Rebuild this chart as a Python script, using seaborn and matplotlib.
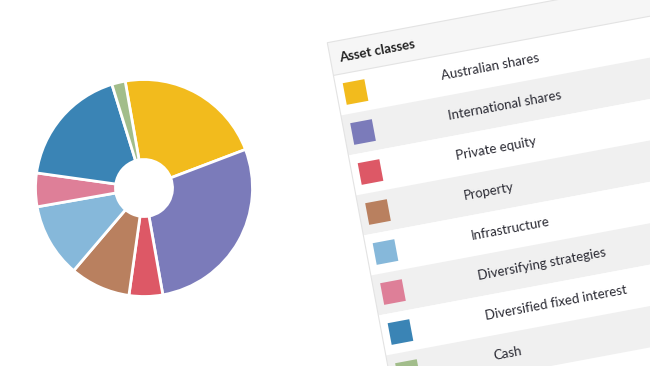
import matplotlib.pyplot as plt
import seaborn as sns
from matplotlib.patches import Rectangle
from matplotlib.transforms import Affine2D

# Data
asset_classes = ['Australian shares', 'International shares', 'Private equity', 'Property',
                 'Infrastructure', 'Diversifying strategies', 'Diversified fixed interest', 'Cash']
weights = [22, 28, 5, 9, 11, 5, 18, 2]
hex_colors = ['#F2BB1D', '#7B7BBA', '#DD5866', '#B9805F',
              '#86B8DA', '#DE7F98', '#3A84B5', '#A2BD8B']
header_label = 'Asset classes'

sns.set_theme(style="white")
plt.rcParams['font.family'] = ['Lato', 'DejaVu Sans']
palette = sns.color_palette(hex_colors)

W, H = 650, 366
fig = plt.figure(figsize=(W / 100, H / 100), dpi=100)
fig.patch.set_facecolor('white')

# Donut chart
cx, cy = 144, 188
ax_pie = fig.add_axes([(cx - 125) / W, (H - cy - 125) / H, 250 / W, 250 / H])
ax_pie.pie(weights, colors=palette, startangle=100, counterclock=False, radius=1.085,
           wedgeprops=dict(width=0.80, edgecolor='white', linewidth=2))
ax_pie.set_xlim(-1.25, 1.25)
ax_pie.set_ylim(-1.25, 1.25)
ax_pie.set_aspect('equal')
ax_pie.axis('off')

# Tilted legend table, drawn in pixel coordinates
ax = fig.add_axes([0, 0, 1, 1])
ax.set_xlim(0, W)
ax.set_ylim(H, 0)
ax.axis('off')

theta = 10.6
tr = Affine2D().rotate_deg(-theta).translate(327.3, 42.7) + ax.transData

table_w = 520
header_h = 33.3
row_h = 40.7
border = '#e3e3e3'

for i, (name, col) in enumerate(zip(asset_classes, palette)):
    top = header_h + i * row_h
    bg = '#f0f0f0' if i % 2 == 1 else 'white'
    ax.add_patch(Rectangle((0, top), table_w, row_h, transform=tr,
                           facecolor=bg, edgecolor='none'))
    mid = top + row_h / 2
    ax.add_patch(Rectangle((18.7 - 11, mid - 11), 22, 22, transform=tr,
                           facecolor=col, edgecolor='none'))
    ax.text(105.4, mid + 4, name, transform=tr, rotation=theta, rotation_mode='anchor',
            ha='left', va='baseline', fontsize=9.5, color='#2a2a33')

ax.add_patch(Rectangle((0, 0), table_w, header_h, transform=tr,
                       facecolor='#f6f6f6', edgecolor=border, linewidth=0.8))
ax.plot([0, 0], [header_h, header_h + 9 * row_h], transform=tr, color=border, lw=0.8)
ax.text(9, 21, header_label, transform=tr, rotation=theta, rotation_mode='anchor',
        ha='left', va='baseline', fontsize=9.5, fontweight='bold', color='#222222')

fig.savefig('out.png', dpi=100)
